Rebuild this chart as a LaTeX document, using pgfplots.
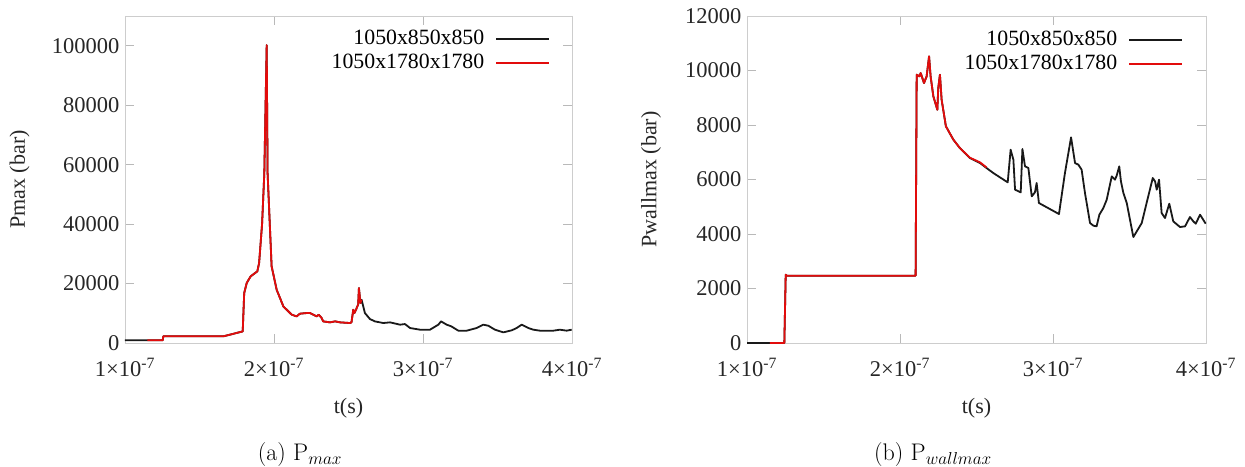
\documentclass[border=0pt]{standalone}
\usepackage{fontspec}
\usepackage{pgfplots}
\pgfplotsset{compat=1.18}
\newfontfamily\tnr{Liberation Serif}
\definecolor{framegray}{RGB}{205,205,205}
\definecolor{tickgray}{RGB}{185,185,185}
\definecolor{myred}{RGB}{226,12,12}
\definecolor{myblack}{RGB}{25,25,25}
\pgfplotsset{
  myaxis/.style={
    scale only axis, height=327pt,
    xmin=1, xmax=4,
    xtick={1,2,3,4},
    xticklabels={1×10\textsuperscript{-7},2×10\textsuperscript{-7},3×10\textsuperscript{-7},4×10\textsuperscript{-7}},
    xticklabel style={yshift=-12pt},
    yticklabel={\tnr\pgfmathprintnumber[assume math mode=true]{\tick}},
    yticklabel style={xshift=-2pt},
    axis line style={framegray, line width=0.8pt},
    tick style={tickgray, line width=0.8pt},
    tick align=inside, major tick length=9pt,
    ticklabel style={font=\tnr\fontsize{22.5}{26}\selectfont, text=black!85},
    label style={font=\tnr\fontsize{22}{26}\selectfont, text=black!85},
    /pgf/number format/fixed, /pgf/number format/1000 sep={},
    /pgf/number format/assume math mode=true,
    scaled y ticks=false,
    xlabel={t(s)},
    xlabel style={at={(axis description cs:0.5,-0.199)}, anchor=center},
    legend plot pos=right,
    legend cell align=right,
    legend image code/.code={\draw[##1, line width=1.8pt] (0pt,0.5pt) -- (53pt,0.5pt);},
    legend style={draw=none, fill=none, inner sep=0pt, outer sep=0pt,
      row sep=3pt, column sep=11pt,
      font=\tnr\fontsize{21.8}{26}\selectfont,
      nodes={inner sep=0pt, text height=15.5pt, text depth=5.5pt}},
  },
  blk/.style={myblack, line width=1.8pt, no markers, line join=round},
  rd/.style={myred, line width=1.8pt, no markers, line join=round},
}
\begin{document}
\begin{tikzpicture}
\useasboundingbox (0pt,0pt) rectangle (1245pt,466pt);
% ---------- (a) Pmax ----------
\begin{axis}[myaxis, at={(125pt,123pt)}, anchor=south west, width=447pt,
  ymin=0, ymax=110000, ytick={0,20000,40000,60000,80000,100000},
  ylabel={Pmax (bar)},
  ylabel style={at={(axis description cs:-0.236,0.5)}, anchor=center},
  legend style={at={(axis description cs:0.951,0.960)}, anchor=north east}]
\addplot[blk] coordinates {
(1.0,900) (1.253,900) (1.257,2240) (1.66,2240) (1.79,3900) (1.80,16800)
(1.817,20200) (1.843,22400) (1.872,23500) (1.888,24100) (1.90,26900)
(1.92,40000) (1.935,57100) (1.944,81800) (1.951,100200) (1.957,57100)
(1.984,25800) (2.018,17900) (2.063,12300) (2.119,9520) (2.152,8960)
(2.174,9860) (2.219,10080) (2.242,10080) (2.264,9520) (2.286,8960)
(2.30,9520) (2.32,8400) (2.33,7280) (2.376,6940) (2.41,7280) (2.443,6940)
(2.51,6720) (2.52,6940) (2.532,11200) (2.54,10080) (2.555,11760)
(2.565,13000) (2.57,18480) (2.58,13440) (2.588,14560)
(2.61,10080) (2.644,8060) (2.677,7280) (2.733,6720) (2.779,6940)
(2.846,6160) (2.879,6380) (2.913,5040) (2.98,4480) (3.047,4480)
(3.103,6160) (3.121,7280) (3.159,6160) (3.19,5600) (3.237,4144)
(3.293,4144) (3.36,5040) (3.405,6160) (3.438,5820) (3.483,4480)
(3.539,3580) (3.595,4260) (3.629,5040) (3.662,6160) (3.707,5040)
(3.74,4480) (3.785,4144) (3.875,4144) (3.919,4480) (3.964,4144) (3.998,4480)
};
\addlegendentry{1050x850x850}
\addplot[rd] coordinates {
(1.15,900) (1.253,900) (1.257,2240) (1.66,2240) (1.79,3900) (1.80,16800)
(1.817,20200) (1.843,22400) (1.872,23500) (1.888,24100) (1.90,26900)
(1.92,40000) (1.935,57100) (1.944,81800) (1.951,100200) (1.957,57100)
(1.984,25800) (2.018,17900) (2.063,12300) (2.119,9520) (2.152,8960)
(2.174,9860) (2.219,10080) (2.242,10080) (2.264,9520) (2.286,8960)
(2.30,9520) (2.32,8400) (2.33,7280) (2.376,6940) (2.41,7280) (2.443,6940)
(2.51,6720) (2.52,6940) (2.532,11200) (2.54,10080) (2.555,11760)
(2.565,13000) (2.57,18480) (2.58,13440) (2.588,14560)
};
\addlegendentry{1050x1780x1780}
\end{axis}
% ---------- (b) Pwallmax ----------
\begin{axis}[myaxis, at={(747pt,123pt)}, anchor=south west, width=459pt,
  ymin=0, ymax=12000, ytick={0,2000,4000,6000,8000,10000,12000},
  ylabel={Pwallmax (bar)},
  ylabel style={at={(axis description cs:-0.209,0.5)}, anchor=center},
  legend style={at={(axis description cs:0.950,0.957)}, anchor=north east}]
\addplot[blk] coordinates {
(1.0,0) (1.244,0) (1.253,2507) (1.26,2470) (2.102,2470) (2.109,9845)
(2.126,9784) (2.135,9906) (2.146,9720) (2.157,9540) (2.174,9784)
(2.19,10520) (2.20,9784) (2.218,9050) (2.244,8560) (2.25,9356)
(2.261,9845) (2.272,8928) (2.30,7950) (2.349,7460) (2.392,7150)
(2.457,6788) (2.523,6604) (2.566,6420)
(2.61,6237) (2.704,5895) (2.723,7093) (2.741,6727) (2.752,5626)
(2.789,5528) (2.80,7118) (2.817,6482) (2.839,6421) (2.861,5381)
(2.882,5528) (2.893,5870) (2.908,5137) (3.039,4733) (3.078,6237)
(3.118,7546) (3.144,6604) (3.166,6543) (3.187,6360) (3.209,5504)
(3.242,4403) (3.264,4305) (3.285,4281) (3.303,4709) (3.329,4953)
(3.351,5259) (3.384,6115) (3.405,5993) (3.416,6140) (3.433,6482)
(3.444,5932) (3.46,5504) (3.482,5137) (3.525,3889) (3.58,4403)
(3.617,5259) (3.652,6054) (3.667,5932) (3.678,5626) (3.693,5993)
(3.71,4770) (3.732,4586) (3.76,5112) (3.786,4464) (3.83,4256)
(3.863,4281) (3.895,4623) (3.917,4464) (3.933,4378) (3.961,4709) (3.998,4378)
};
\addlegendentry{1050x850x850}
\addplot[rd] coordinates {
(1.15,0) (1.244,0) (1.253,2507) (1.26,2470) (2.102,2470) (2.109,9845)
(2.126,9784) (2.135,9906) (2.146,9720) (2.157,9540) (2.174,9784)
(2.19,10520) (2.20,9784) (2.218,9050) (2.244,8560) (2.25,9356)
(2.261,9845) (2.272,8928) (2.30,7950) (2.349,7460) (2.392,7150)
(2.457,6800) (2.523,6630) (2.566,6440)
};
\addlegendentry{1050x1780x1780}
\end{axis}
% ---------- captions ----------
\node[font=\fontsize{24}{28}\selectfont] at (300pt,11pt) {(a) P$_{max}$};
\node[font=\fontsize{24}{28}\selectfont] at (933pt,11pt) {(b) P$_{wallmax}$};
\end{tikzpicture}
\end{document}
